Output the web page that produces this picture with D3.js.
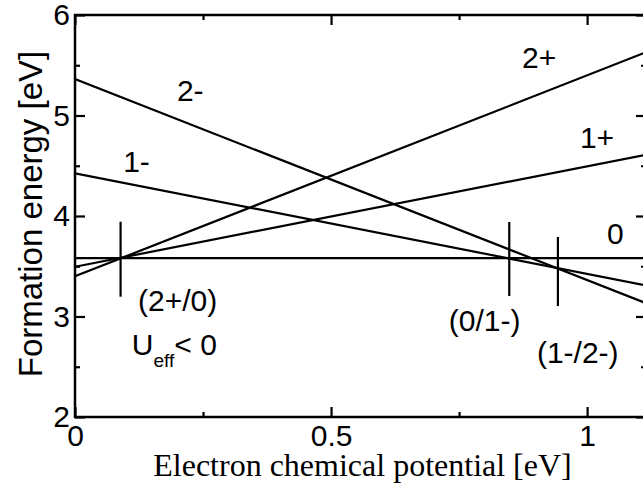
<!DOCTYPE html>
<html>
<head>
<meta charset="utf-8">
<script src="https://cdn.jsdelivr.net/npm/d3@7"></script>
<style>
  body { margin: 0; background: #fff; }
  svg { display: block; }
</style>
</head>
<body>
<script>
// charge states and their formation energy at both ends of the window [eV]
const muEnds = [0, 1.115];
const states = ["2+", "1+", "0", "1-", "2-"];
const energyAtEnds = [
  [3.40, 5.63],
  [3.495, 4.61],
  [3.58, 3.58],
  [4.425, 3.31],
  [5.363, 3.133]
];

// transition levels: position and vertical extent of each marker
const levelNames = ["(2+/0)", "(0/1-)", "(1-/2-)"];
const levelMu = [0.089, 0.848, 0.943];
const levelTop = [3.943, 3.94, 3.791];
const levelBottom = [3.197, 3.204, 3.104];

const xMajor = [0, 0.5, 1];
const xMinor = [0.25, 0.75];
const yMajor = [2, 3, 4, 5, 6];
const yMinor = [2.5, 3.5, 4.5, 5.5];

const W = 643, H = 485;
const margin = {top: 15, right: -3, bottom: 68, left: 75};
const innerW = W - margin.left - margin.right;
const innerH = H - margin.top - margin.bottom;

const sans = "'Liberation Sans', Arial, Helvetica, sans-serif";
const serif = "'Liberation Serif', 'Times New Roman', serif";

const svg = d3.select("body").append("svg")
  .attr("width", W).attr("height", H);

const g = svg.append("g")
  .attr("transform", "translate(" + margin.left + "," + margin.top + ")");

const x = d3.scaleLinear().domain([0, 1.115]).range([0, innerW]);
const y = d3.scaleLinear().domain([2, 6]).range([innerH, 0]);

g.append("clipPath").attr("id", "clip")
  .append("rect").attr("width", innerW).attr("height", innerH);

// axes: inward ticks, major + minor
const styleAxis = sel => {
  sel.select(".domain").remove();
  sel.selectAll("line").attr("stroke", "#000").attr("stroke-width", 2.2);
  sel.selectAll("text").attr("font-family", sans).attr("font-size", 30).attr("fill", "#000");
};

g.append("g").attr("transform", "translate(0," + innerH + ")")
  .call(d3.axisBottom(x).tickValues(xMajor).tickSizeInner(-10).tickSizeOuter(0)
    .tickPadding(8).tickFormat(d3.format("")))
  .call(styleAxis);
g.append("g").attr("transform", "translate(0," + innerH + ")")
  .call(d3.axisBottom(x).tickValues(xMinor).tickSizeInner(-5).tickSizeOuter(0).tickFormat(""))
  .call(styleAxis);
g.append("g")
  .call(d3.axisTop(x).tickValues(xMajor).tickSizeInner(-10).tickSizeOuter(0).tickFormat(""))
  .call(styleAxis);
g.append("g")
  .call(d3.axisTop(x).tickValues(xMinor).tickSizeInner(-5).tickSizeOuter(0).tickFormat(""))
  .call(styleAxis);

g.append("g")
  .call(d3.axisLeft(y).tickValues(yMajor).tickSizeInner(-10).tickSizeOuter(0)
    .tickPadding(5).tickFormat(d3.format("d")))
  .call(styleAxis);
g.append("g")
  .call(d3.axisLeft(y).tickValues(yMinor).tickSizeInner(-5).tickSizeOuter(0).tickFormat(""))
  .call(styleAxis);
g.append("g").attr("transform", "translate(" + innerW + ",0)")
  .call(d3.axisRight(y).tickValues(yMajor).tickSizeInner(-10).tickSizeOuter(0).tickFormat(""))
  .call(styleAxis);
g.append("g").attr("transform", "translate(" + innerW + ",0)")
  .call(d3.axisRight(y).tickValues(yMinor).tickSizeInner(-5).tickSizeOuter(0).tickFormat(""))
  .call(styleAxis);

// frame
g.append("rect")
  .attr("width", innerW).attr("height", innerH)
  .attr("fill", "none").attr("stroke", "#000").attr("stroke-width", 2.5);

// formation energy lines
const line = d3.line().x(d => x(d[0])).y(d => y(d[1]));
g.append("g").attr("clip-path", "url(#clip)")
  .selectAll("path")
  .data(energyAtEnds)
  .enter().append("path")
    .attr("d", e => line(muEnds.map((m, i) => [m, e[i]])))
    .attr("fill", "none")
    .attr("stroke", "#000")
    .attr("stroke-width", 2.2);

// transition level markers
g.selectAll(".level")
  .data(levelMu)
  .enter().append("line")
    .attr("x1", d => x(d)).attr("x2", d => x(d))
    .attr("y1", (d, i) => y(levelTop[i]))
    .attr("y2", (d, i) => y(levelBottom[i]))
    .attr("stroke", "#000").attr("stroke-width", 2.2);

// labels, placed in data coordinates
const stateLabelPos = [[0.873, 5.473], [0.986, 4.677], [1.039, 3.721], [0.094, 4.438], [0.199, 5.144]];
const levelLabelPos = [[0.123, 3.055], [0.730, 2.856], [0.902, 2.537]];

const label = (txt, p) => g.append("text")
  .attr("x", x(p[0])).attr("y", y(p[1]))
  .attr("font-family", sans).attr("font-size", 30)
  .text(txt);

states.forEach((s, i) => label(s, stateLabelPos[i]));
levelNames.forEach((s, i) => label(s, levelLabelPos[i]));

const ueff = label("U", [0.111, 2.617]);
ueff.append("tspan").attr("font-size", 19).attr("dy", 12).text("eff");
ueff.append("tspan").attr("dy", -12).text("< 0");

// axis titles
svg.append("text")
  .attr("x", (margin.left + W - margin.right) / 2 + 2)
  .attr("y", 476)
  .attr("text-anchor", "middle")
  .attr("font-family", serif).attr("font-size", 32)
  .text("Electron chemical potential [eV]");

svg.append("text")
  .attr("transform", "translate(42,214) rotate(-90)")
  .attr("text-anchor", "middle")
  .attr("font-family", sans).attr("font-size", 33)
  .text("Formation energy [eV]");
</script>
</body>
</html>
